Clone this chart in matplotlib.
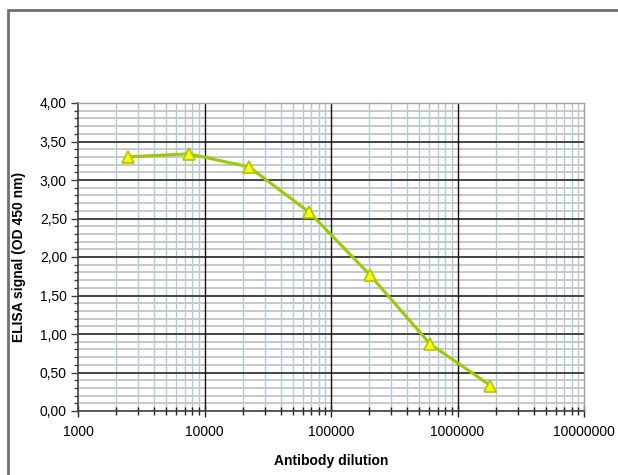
import numpy as np
import matplotlib.pyplot as plt
from matplotlib.ticker import FixedLocator, FuncFormatter, LogLocator, NullFormatter
from matplotlib.patches import Rectangle

# 稀释度与ELISA信号
dilution = [2500, 7500, 22500, 67500, 202500, 607500, 1822500]
od450 = [3.30, 3.34, 3.17, 2.58, 1.77, 0.87, 0.33]

plt.rcParams['font.family'] = ['Liberation Sans', 'DejaVu Sans']

fig = plt.figure(figsize=(6.18, 4.75), dpi=100)
ax = fig.add_axes([78 / 618, 64 / 475, 506 / 618, 308 / 475])

# 外框
fig.patches.append(Rectangle((8 / 618, -0.1), 1.2, 1.1 - 10 / 475,
                             transform=fig.transFigure, fill=False,
                             edgecolor='#707070', linewidth=2, clip_on=False))

ax.set_xscale('log')
ax.set_xlim(1000, 1e7)
ax.set_ylim(0, 4)

x_major = [1e3, 1e4, 1e5, 1e6, 1e7]
x_minor = [m * d for d in x_major[:-1] for m in range(2, 10)]
y_major = np.arange(0, 4.01, 0.5)
y_minor = np.arange(0, 4.01, 0.1)

ax.xaxis.set_major_locator(FixedLocator(x_major))
ax.xaxis.set_minor_locator(FixedLocator(x_minor))
ax.xaxis.set_major_formatter(FuncFormatter(lambda v, p: f"{int(round(v))}"))
ax.xaxis.set_minor_formatter(NullFormatter())

ax.yaxis.set_major_locator(FixedLocator(y_major))
ax.yaxis.set_minor_locator(FixedLocator(y_minor))
ax.yaxis.set_major_formatter(FuncFormatter(lambda v, p: f"{v:.2f}".replace('.', ',')))

# 网格（手动画，控制叠放顺序）
for x in x_minor:
    ax.axvline(x, color='#a8cbe6', linewidth=1.0, zorder=0.5)
for y in y_minor:
    ax.axhline(y, color='#c8c8c8', linewidth=1.4, zorder=0.6)
for y in y_major[1:-1]:
    ax.axhline(y, color='#303030', linewidth=1.2, zorder=0.7)
for x in x_major[1:-1]:
    ax.axvline(x, color='#101010', linewidth=1.0, zorder=0.8)

for s in ['top', 'right']:
    ax.spines[s].set_color('#a0a0a0')
    ax.spines[s].set_linewidth(1.0)
for s in ['left', 'bottom']:
    ax.spines[s].set_color('#404040')
    ax.spines[s].set_linewidth(1.2)

ax.tick_params(axis='y', which='major', direction='out', length=5, width=1, color='#404040',
               labelsize=10, pad=3)
ax.tick_params(axis='y', which='minor', direction='out', length=3, width=1, color='#404040')
ax.tick_params(axis='x', which='major', direction='inout', length=8, width=1, color='#202020',
               labelsize=10, pad=6)
ax.tick_params(axis='x', which='minor', direction='inout', length=6, width=1, color='#202020')

ax.plot(dilution, od450, color='#99cc00', linewidth=2.2, marker='^', markersize=9,
        markerfacecolor='#ffff00', markeredgecolor='#a6c800', markeredgewidth=1.2, zorder=5)

ax.set_xlabel('Antibody dilution', fontsize=10, fontweight='bold', labelpad=11)
ax.set_ylabel('ELISA signal (OD 450 nm)', fontsize=10, fontweight='bold', labelpad=10)

fig.savefig('out.png', dpi=100)
